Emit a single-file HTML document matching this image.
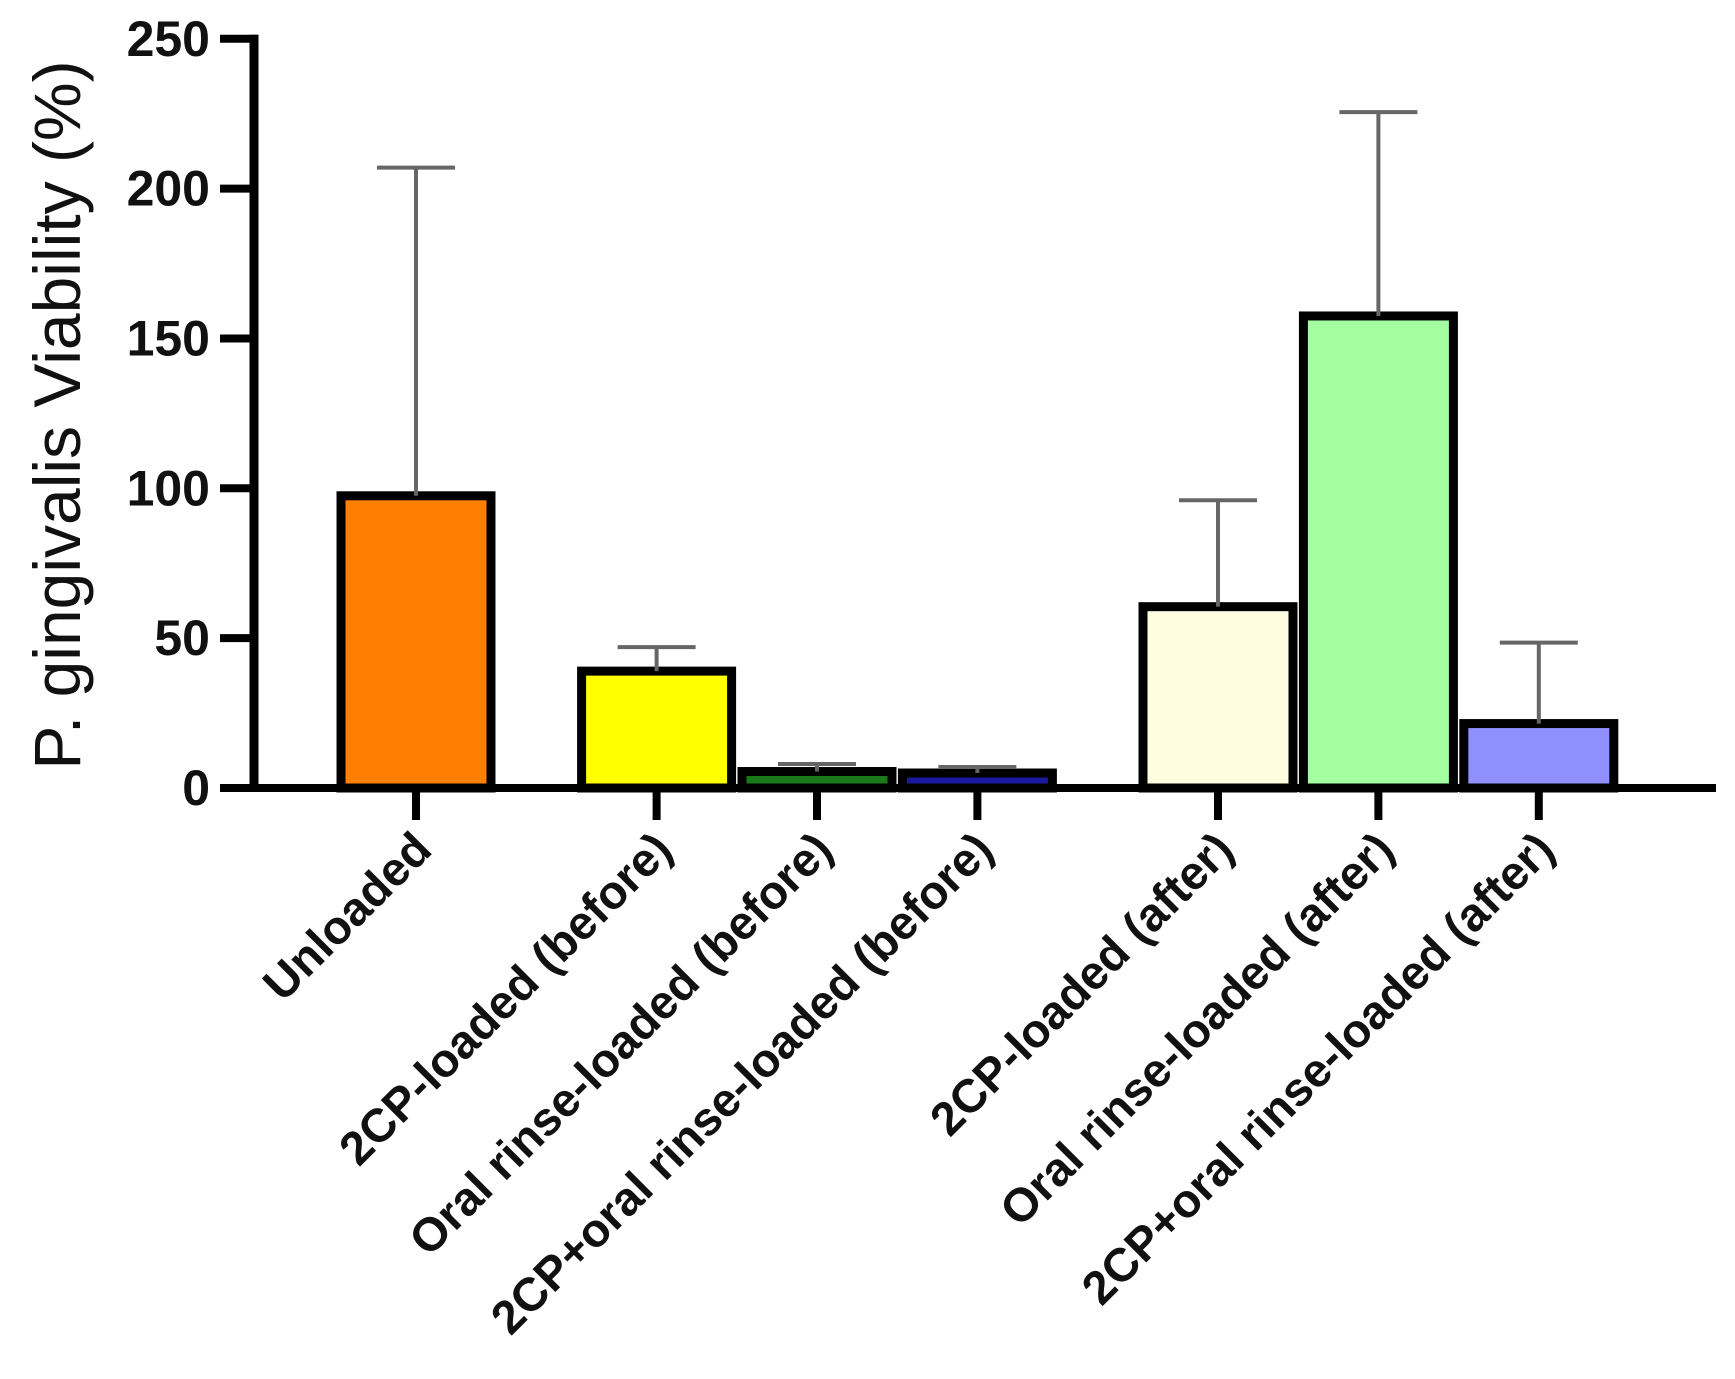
<!DOCTYPE html>
<html><head><meta charset="utf-8"><style>
html,body{margin:0;padding:0;background:#fff;}
svg{display:block;font-family:"Liberation Sans",Arial,sans-serif;}
</style></head><body>
<svg id="chart" width="1735" height="1379" viewBox="0 0 1735 1379" xmlns="http://www.w3.org/2000/svg">
<g id="bars"></g>
<g id="errs"></g>
<g id="axes"></g>
<text transform="translate(80,415) rotate(-90)" text-anchor="middle" font-size="66" fill="#111">P. gingivalis Viability (%)</text>
</svg>
<script>
const categories = ["Unloaded","2CP-loaded (before)","Oral rinse-loaded (before)","2CP+oral rinse-loaded (before)","2CP-loaded (after)","Oral rinse-loaded (after)","2CP+oral rinse-loaded (after)"];
const slots = [0,1.5,2.5,3.5,5,6,7];
const means = [97.5,39,5.5,5,60.5,157.5,21.5];
const errTops = [207,47,8,7,96,225.5,48.5];
const colors = ["#ff8000","#ffff00","#1a7a1a","#1a1aa0","#fffde0","#a3ff9f","#8f8fff"];
const yTicks = [0,50,100,150,200,250];

const NS="http://www.w3.org/2000/svg";
const y0=788, pxPerUnit=2.997, cx0=416, slotW=160.4, barW=150;
const yS=v=>y0-v*pxPerUnit;
const xS=s=>cx0+s*slotW;
function mk(tag,attrs,parent){const e=document.createElementNS(NS,tag);for(const k in attrs)e.setAttribute(k,attrs[k]);parent.appendChild(e);return e;}
const bars=document.getElementById('bars'),errs=document.getElementById('errs'),axes=document.getElementById('axes');
categories.forEach((c,i)=>{
  const cx=xS(slots[i]);
  const r=mk('rect',{x:cx-barW/2,y:yS(means[i]),width:barW,height:y0-yS(means[i]),fill:colors[i],stroke:'#000','stroke-width':9},bars);
  
  
  const l=mk('line',{x1:cx,x2:cx,y1:yS(means[i]),y2:yS(errTops[i]),stroke:'#666','stroke-width':4},errs);
  
  
  const cap=mk('line',{x1:cx-39,x2:cx+39,y1:yS(errTops[i]),y2:yS(errTops[i]),stroke:'#666','stroke-width':4},errs);
  
  
  mk('line',{x1:cx,x2:cx,y1:y0,y2:y0+32,stroke:'#000','stroke-width':8},axes);
  const t=mk('text',{transform:`translate(${cx+18},${y0+64}) rotate(-45)`,'text-anchor':'end','font-size':47,'font-weight':'bold',fill:'#111'},axes);
  t.textContent=c;
  
  
});
const ya=mk('line',{x1:254,x2:254,y1:y0+4,y2:yS(250)-4,stroke:'#000','stroke-width':9},axes);


const xa=mk('line',{x1:250,x2:1716,y1:y0,y2:y0,stroke:'#000','stroke-width':8},axes);


yTicks.forEach(v=>{
  mk('line',{x1:220,x2:258,y1:yS(v),y2:yS(v),stroke:'#000','stroke-width':8},axes);
  const t=mk('text',{x:210,y:yS(v)+17,'text-anchor':'end','font-size':50,'font-weight':'bold',fill:'#111'},axes);
  t.textContent=v;
  
  
});
</script>
</body></html>
